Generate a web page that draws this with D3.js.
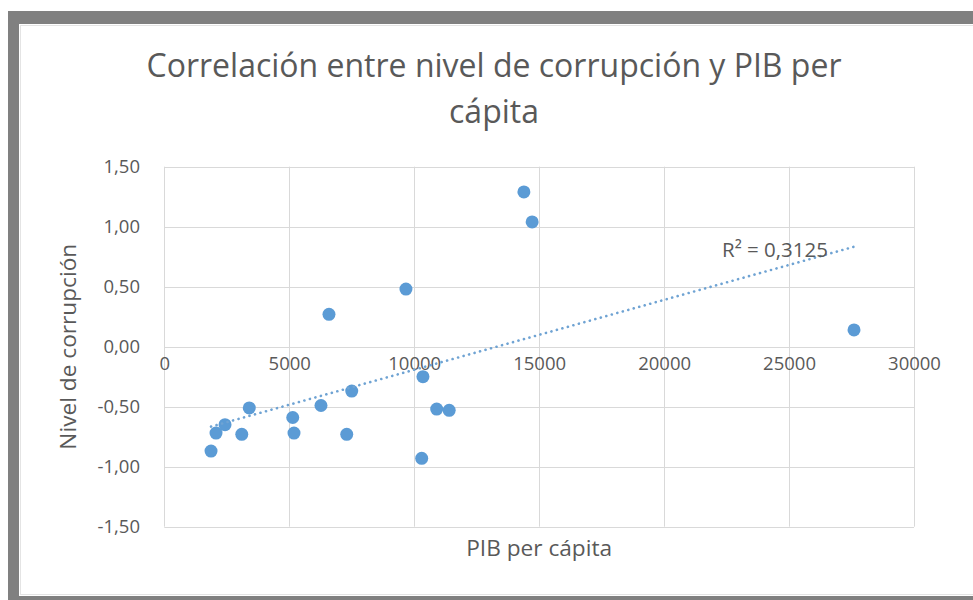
<!DOCTYPE html>
<html>
<head>
<meta charset="utf-8">
<script src="https://cdn.jsdelivr.net/npm/d3@7"></script>
<style>
  body { margin: 0; background: #fff; }
  text { font-family: "Open Sans", "Noto Sans", sans-serif; fill: #595959; }
</style>
</head>
<body>
<div id="chart"></div>
<script>
// values
var pib = [1870, 2070, 2430, 3100, 3400, 5140, 5190, 6270, 6590, 7300,
           7500, 9670, 10300, 10350, 10900, 11400, 14390, 14720, 27600];
var corrupcion = [-0.87, -0.72, -0.65, -0.73, -0.51, -0.59, -0.72, -0.49, 0.27, -0.73,
                  -0.37, 0.48, -0.93, -0.25, -0.52, -0.53, 1.29, 1.04, 0.14];
var xTicks = [0, 5000, 10000, 15000, 20000, 25000, 30000];
var yTicks = [-1.5, -1, -0.5, 0, 0.5, 1, 1.5];
var titleLines = ["Correlación entre nivel de corrupción y PIB per", "cápita"];
var r2Label = "R² = 0,3125";

var W = 973, H = 600;

var svg = d3.select("#chart").append("svg")
    .attr("width", W)
    .attr("height", H);

// scale a text's font so it spans the given width
function fitText(sel, width) {
    var fs = parseFloat(sel.style("font-size"));
    var w = sel.node().getComputedTextLength();
    fs = fs * width / w;
    sel.style("font-size", fs + "px");
    return fs;
}

// grey frame around the chart area
svg.append("rect").attr("x", 8).attr("y", 11).attr("width", W).attr("height", H)
    .attr("fill", "#808080");
svg.append("rect").attr("x", 19).attr("y", 24).attr("width", W).attr("height", 572)
    .attr("fill", "#fff");
svg.append("rect").attr("x", 20.5).attr("y", 25.5).attr("width", W).attr("height", 569)
    .attr("fill", "none").attr("stroke", "#e4e4e4");

var x = d3.scaleLinear().domain([0, 30000]).range([164.3, 914]);
var y = d3.scaleLinear().domain([-1.5, 1.5]).range([526.7, 166.7]);

// gridlines
var grid = svg.append("g");
grid.selectAll(".gx").data(xTicks).enter().append("line")
    .attr("x1", function(d) { return Math.round(x(d)) + 0.5; })
    .attr("x2", function(d) { return Math.round(x(d)) + 0.5; })
    .attr("y1", y(1.5)).attr("y2", y(-1.5))
    .attr("stroke", "#d9d9d9").attr("stroke-width", 1);
grid.selectAll(".gy").data(yTicks).enter().append("line")
    .attr("y1", function(d) { return Math.round(y(d)) + 0.5; })
    .attr("y2", function(d) { return Math.round(y(d)) + 0.5; })
    .attr("x1", x(0)).attr("x2", x(30000))
    .attr("stroke", "#d9d9d9").attr("stroke-width", 1);

// y axis labels
var fmtY = function(d) { return d3.format(".2f")(d).replace(".", ",").replace("−", "-"); };
var yAxis = d3.axisLeft(y).tickValues(yTicks).tickFormat(fmtY).tickSize(0).tickPadding(0);
var gy = svg.append("g").attr("transform", "translate(140,0)").call(yAxis);
gy.select(".domain").remove();
gy.selectAll("text").style("font-size", "18.5px").attr("fill", "#595959")
    .style("font-family", "'Open Sans', sans-serif");

// x axis labels sit under the zero line
var xAxis = d3.axisBottom(x).tickValues(xTicks).tickFormat(d3.format("d")).tickSize(0).tickPadding(0);
var gx = svg.append("g").attr("transform", "translate(0," + (y(0) + 23) + ")").call(xAxis);
gx.select(".domain").remove();
gx.selectAll("text").style("font-size", "18.5px").attr("fill", "#595959")
    .attr("dy", "0").style("font-family", "'Open Sans', sans-serif");

// points
var pts = pib.map(function(d, i) { return {x: d, y: corrupcion[i]}; });
svg.append("g").selectAll("circle").data(pts).enter().append("circle")
    .attr("cx", function(d) { return x(d.x); })
    .attr("cy", function(d) { return y(d.y); })
    .attr("r", 6.5)
    .attr("fill", "#5b9bd5");

// linear trend line, least squares
var mx = d3.mean(pib), my = d3.mean(corrupcion);
var sxy = d3.sum(pts, function(d) { return (d.x - mx) * (d.y - my); });
var sxx = d3.sum(pts, function(d) { return (d.x - mx) * (d.x - mx); });
var slope = sxy / sxx, inter = my - slope * mx;
var ext = d3.extent(pib);
svg.append("line")
    .attr("x1", x(ext[0])).attr("y1", y(inter + slope * ext[0]))
    .attr("x2", x(ext[1])).attr("y2", y(inter + slope * ext[1]))
    .attr("stroke", "#6fa3d3").attr("stroke-width", 2.6)
    .attr("stroke-dasharray", "0.1,5.6").attr("stroke-linecap", "round");

var r2 = svg.append("text").attr("x", 722).attr("y", 257)
    .style("font-size", "17px").text(r2Label);
fitText(r2, 106);

// title, sized so the first line spans the same width as the picture
var t1 = svg.append("text").attr("x", 494).attr("y", 77)
    .attr("text-anchor", "middle").style("font-size", "30px").text(titleLines[0]);
var fs = fitText(t1, 695);
svg.append("text").attr("x", 494).attr("y", 123)
    .attr("text-anchor", "middle").style("font-size", fs + "px").text(titleLines[1]);

// axis titles
var xt = svg.append("text").attr("x", x(15000)).attr("y", 556)
    .attr("text-anchor", "middle").style("font-size", "19px").text("PIB per cápita");
fitText(xt, 146);
var ytl = svg.append("text").attr("transform", "translate(76," + y(0) + ") rotate(-90)")
    .attr("text-anchor", "middle").style("font-size", "19px").text("Nivel de corrupción");
fitText(ytl, 206);
</script>
</body>
</html>
